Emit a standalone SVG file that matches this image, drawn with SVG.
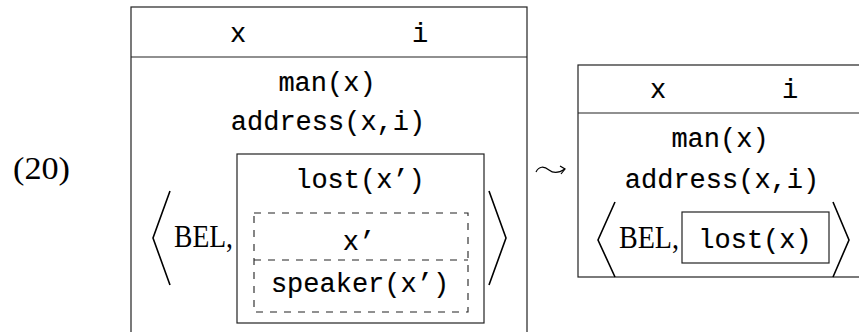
<svg xmlns="http://www.w3.org/2000/svg" width="859" height="332" viewBox="0 0 859 332">
<style>
.box{fill:none;stroke:#222;stroke-width:1.2}
.dash{fill:none;stroke:#222;stroke-width:1.1;stroke-dasharray:7 7}
.br{fill:none;stroke:#000;stroke-width:1.6}
.tt{font-family:"Liberation Mono","Courier New",monospace;font-size:27px;fill:#000;text-anchor:middle;stroke:#000;stroke-width:0.15}
.rm{font-family:"Liberation Serif","Times New Roman",serif;font-size:32px;fill:#000}
</style>
<rect width="859" height="332" fill="#fff"/>
<text class="rm" x="13" y="179" textLength="57" lengthAdjust="spacingAndGlyphs">(20)</text>
<g id="drs-left">
<rect class="box" x="131" y="7" width="396" height="340"/>
<line class="box" x1="131" y1="57" x2="527" y2="57"/>
<text class="tt" x="238" y="42">x</text>
<text class="tt" x="420" y="42">i</text>
<text class="tt" x="327" y="91">man(x)</text>
<text class="tt" x="328" y="130">address(x,i)</text>
<polyline class="br" points="170,191 153,238 170,285"/>
<text class="rm" x="174" y="247" textLength="59" lengthAdjust="spacingAndGlyphs">BEL,</text>
<g id="inner-left">
<rect class="box" x="237" y="154" width="247" height="169"/>
<text class="tt" x="360" y="188">lost(x’)</text>
<g id="dashed-drs">
<rect class="dash" x="254" y="213" width="214" height="99"/>
<line class="dash" x1="254" y1="260" x2="468" y2="260"/>
<text class="tt" x="359" y="250">x’</text>
<text class="tt" x="360" y="292">speaker(x’)</text>
</g>
</g>
<polyline class="br" points="489,191 506,238 489,285"/>
</g>
<g id="connectors">
<path d="M536,172 C539,166 544,166 549,170 C554,174 559,173 565,169" fill="none" stroke="#000" stroke-width="1.2"/>
<path d="M560,166 L565,169 L561,174" fill="none" stroke="#000" stroke-width="1.2"/>
</g>
<g id="drs-right">
<rect class="box" x="578" y="65" width="300" height="212"/>
<line class="box" x1="578" y1="113" x2="878" y2="113"/>
<text class="tt" x="658" y="98">x</text>
<text class="tt" x="790" y="98">i</text>
<text class="tt" x="720" y="147">man(x)</text>
<text class="tt" x="722" y="188">address(x,i)</text>
<polyline class="br" points="615,202 598,240 615,277"/>
<text class="rm" x="619" y="248" textLength="60" lengthAdjust="spacingAndGlyphs">BEL,</text>
<g id="inner-right">
<rect class="box" x="682" y="212" width="147" height="51"/>
<text class="tt" x="755" y="248">lost(x)</text>
</g>
<polyline class="br" points="833,202 849,240 833,277"/>
</g>
</svg>
